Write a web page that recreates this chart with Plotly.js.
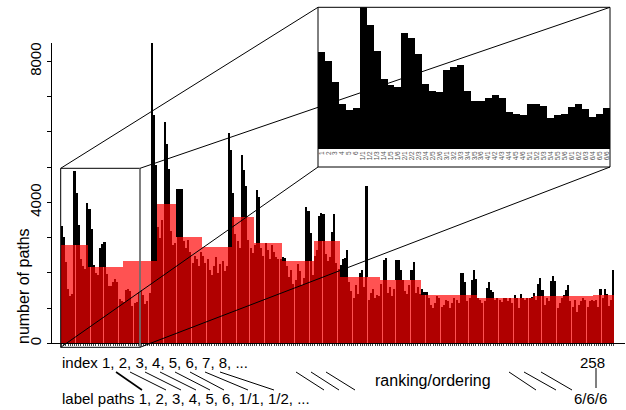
<!DOCTYPE html>
<html><head><meta charset="utf-8">
<script src="https://cdn.plot.ly/plotly-3.0.1.min.js"></script>
<style>html,body{margin:0;padding:0;background:#fff;} #chart{width:626px;height:410px;}</style>
</head><body><div id="chart"></div>
<script>
// ---- data: number of paths per label path, in ranking order (index 1..258) ----
const pathCounts = [
  3347, 3034, 2304, 1563, 1355, 1401,
  4887, 4273, 3370, 2397, 2189, 2119,
  3995, 3821, 3266, 2223, 1992, 1945,
  2721, 2826, 2883, 1980, 1633, 1633,
  1749, 1841, 1737, 1262, 1216, 1181,
  1529, 1563, 1494, 1077, 1158, 1193,
  1459, 1529, 1366, 1112, 1216, 1424,
  8530, 6475, 5060,
  3300, 3000, 3500, 6290, 5670, 4965, 3200, 2800, 2850,
  4380, 4380, 4380, 2900, 2700, 2950, 2600, 2300, 2500, 2400, 2200, 2600,
  2500, 2300, 2400, 2100, 1950, 2200, 2450, 2000, 2250, 2350, 2050, 2205, 5985, 5480,
  4270, 3100, 2900, 2700, 5340, 4915, 4460, 2950, 2700, 2565,
  2800, 4350, 4160, 2700, 2500, 2850, 2650, 2400, 2800, 2600, 2450, 2390, 2400,
  2457, 2420, 2200, 1900, 2100, 1700, 1800, 2250, 2050, 1650, 1850, 3875, 3750, 3150, 1948,
  2500, 2650, 3610, 3715, 3690, 2550, 2350, 2450, 3170, 3690, 2300, 2125,
  2220, 2390, 2440, 2647, 1750, 1500, 1300, 1650, 1400, 2000, 2080, 1600, 4463, 1250, 1450, 1550, 1300, 1380, 1350,
  1700, 2363, 2440, 1450, 1600, 1350, 1550, 2363, 2363, 2100, 1800, 1500, 1400, 1650, 2100, 2306, 1450, 1600, 1400,
  1560, 1470, 1470, 1300, 1100, 1000, 1150, 1350, 1300, 1050, 1100, 1250, 1200, 1000, 1150, 1300, 1250, 1150, 2015, 2015, 1748, 1200, 1287, 1815, 2080, 1830,
  1300, 1250, 1150, 1200, 1590, 1750, 1510, 1465, 1240, 1300, 1250, 1190, 1280, 1300, 1200, 1280, 1150, 1370, 1290, 1000, 1400, 1300, 1250, 1280, 1300, 1335,
  1430, 1250, 1702, 1872, 1512, 1100, 1300, 1200, 1776, 1910, 1787, 1000, 1150, 1300, 1370, 1512, 1654, 1200, 1050, 1250, 900, 1100, 1200, 1300, 1250, 1050, 1200, 1251,
  1200, 1250, 1050, 1540, 1300, 1560, 1400, 1070, 1250, 2080
];
// last index of each group (groups shown as light-red mean blocks)
const blockEnds = [13, 29, 45, 54, 66, 80, 90, 103, 118, 130, 149, 168, 194, 220, 248, 258];
// label paths of the first 42 indices (zoomed inset)
const insetLabels = ['1','2','3','4','5','6',
  '1/1','1/2','1/3','1/4','1/5','1/6',
  '2/1','2/2','2/3','2/4','2/5','2/6',
  '3/1','3/2','3/3','3/4','3/5','3/6',
  '4/1','4/2','4/3','4/4','4/5','4/6',
  '5/1','5/2','5/3','5/4','5/5','5/6',
  '6/1','6/2','6/3','6/4','6/5','6/6'];
const yTickValues = [0, 1000, 2000, 3000, 4000, 5000, 6000, 7000, 8000];
const yTickLabels = ['0', '', '', '', '4000', '', '', '', '8000'];
const yTitle = 'number of paths';
const indexText = 'index 1, 2, 3, 4, 5, 6, 7, 8, ...';
const labelText = 'label paths 1, 2, 3, 4, 5, 6, 1/1, 1/2, ...';
const orderText = 'ranking/ordering';
const lastIndex = '258';
const lastLabel = '6/6/6';

// ---- derived ----
const W = 626, H = 410;
const px = x => x / W;
const py = y => 1 - y / H;
const idx = pathCounts.map((_, i) => i + 1);
const blockX = [], blockW = [], blockMean = [], meanOf = [];
let st = 1;
blockEnds.forEach(e => {
  let sum = 0;
  for (let i = st; i <= e; i++) sum += pathCounts[i - 1];
  const m = sum / (e - st + 1);
  blockX.push((st + e) / 2); blockW.push(e - st + 1); blockMean.push(m);
  for (let i = st; i <= e; i++) meanOf.push(m);
  st = e + 1;
});
const belowMean = pathCounts.map((v, i) => Math.min(v, meanOf[i]));
const nInset = insetLabels.length;
const insetIdx = insetLabels.map((_, i) => i + 1);

const traces = [
  {type: 'bar', x: idx, y: pathCounts, width: 1, marker: {color: '#000', line: {width: 0}}, hoverinfo: 'skip', xaxis: 'x', yaxis: 'y'},
  {type: 'bar', x: blockX, y: blockMean, width: blockW, marker: {color: '#ff5252', line: {width: 0}}, hoverinfo: 'skip', xaxis: 'x', yaxis: 'y'},
  {type: 'bar', x: idx, y: belowMean, width: 0.94, marker: {color: '#b00000', line: {width: 0}}, hoverinfo: 'skip', xaxis: 'x', yaxis: 'y'},
  {type: 'bar', x: insetIdx, y: pathCounts.slice(0, nInset), width: 1, marker: {color: '#000', line: {width: 0}}, hoverinfo: 'skip', xaxis: 'x2', yaxis: 'y2'}
];

const ln = (x0, y0, x1, y1, color, w) => ({type: 'line', xref: 'paper', yref: 'paper',
  x0: px(x0), y0: py(y0), x1: px(x1), y1: py(y1), line: {color: color || '#000', width: w || 1}});

const shapes = [
  {type: 'rect', xref: 'paper', yref: 'paper', x0: px(60.7), x1: px(140), y0: py(347.3), y1: py(168.3), line: {color: '#000', width: 1}},
  ln(140, 168.3, 140, 347.3, '#808080', 1.5),
  {type: 'rect', xref: 'paper', yref: 'paper', x0: px(318), x1: px(610), y0: py(167), y1: py(7.3), line: {color: '#000', width: 1}},
  ln(60.7, 168.3, 318, 7.3), ln(140, 168.3, 610, 7.3),
  ln(60.7, 347.3, 318, 167), ln(140, 347.3, 610, 167)
];
const starts = [116, 130, 145, 160, 175, 190, 205, 220, 296, 311, 326, 509, 524, 541];
const ends =   [142, 166, 181, 196, 210, 224, 248, 274, 324, 339, 355, 536, 556, 572];
starts.forEach((s, i) => shapes.push(ln(s, 372, ends[i], 390, '#000', i === 0 ? 1.6 : 1)));
shapes.push(ln(596, 368, 596, 388));

const tf = {family: 'Liberation Sans, Arial, sans-serif', size: 15, color: '#000'};
const ann = (text, x, y, xanchor, extra) => Object.assign({text, xref: 'paper', yref: 'paper',
  x: px(x), y: py(y), xanchor, yanchor: 'middle', showarrow: false, font: tf}, extra || {});
const annotations = [
  ann(indexText, 60, 362, 'left'),
  ann(labelText, 60, 398, 'left'),
  ann(orderText, 433, 380, 'center', {font: {family: 'Liberation Sans, Arial, sans-serif', size: 16, color: '#000'}}),
  ann(lastIndex, 607, 362, 'right'),
  ann(lastLabel, 609, 398, 'right'),
  ann(yTitle, 23, 286, 'center', {textangle: -90, font: {family: 'Liberation Sans, Arial, sans-serif', size: 16, color: '#000'}})
];

const layout = {
  width: W, height: H, margin: {l: 0, r: 0, t: 0, b: 0, pad: 0},
  paper_bgcolor: '#fff', plot_bgcolor: 'rgba(0,0,0,0)',
  showlegend: false, barmode: 'overlay', bargap: 0, bargroupgap: 0,
  xaxis: {domain: [px(52), px(625)], range: [-3.459, 263.42], anchor: 'y',
    showline: true, linecolor: '#000', linewidth: 1, ticks: 'outside', ticklen: 2, tickwidth: 1, tickcolor: '#444',
    tickmode: 'array', tickvals: idx, showticklabels: false, showgrid: false, zeroline: false, fixedrange: true},
  yaxis: {domain: [py(343.3), py(42.7)], range: [0, 8530], anchor: 'x',
    showline: true, linecolor: '#000', linewidth: 1, ticks: 'outside', ticklen: 4, tickwidth: 1, tickcolor: '#000',
    tickmode: 'array', tickvals: yTickValues, ticktext: yTickLabels, tickangle: -90, tickfont: tf,
    showgrid: false, zeroline: false, fixedrange: true},
  xaxis2: {domain: [px(318), px(610)], range: [0.5, nInset + 0.5], anchor: 'y2',
    tickmode: 'array', tickvals: insetIdx, ticktext: insetLabels, tickangle: -90,
    tickfont: {family: 'Liberation Sans, Arial, sans-serif', size: 6.5, color: '#555'},
    ticks: '', showline: false, showgrid: false, zeroline: false, fixedrange: true},
  yaxis2: {domain: [py(149), py(7.3)], range: [0, 4900], anchor: 'x2', visible: false, fixedrange: true},
  shapes, annotations
};
Plotly.newPlot('chart', traces, layout, {displayModeBar: false, responsive: false});
</script></body></html>
